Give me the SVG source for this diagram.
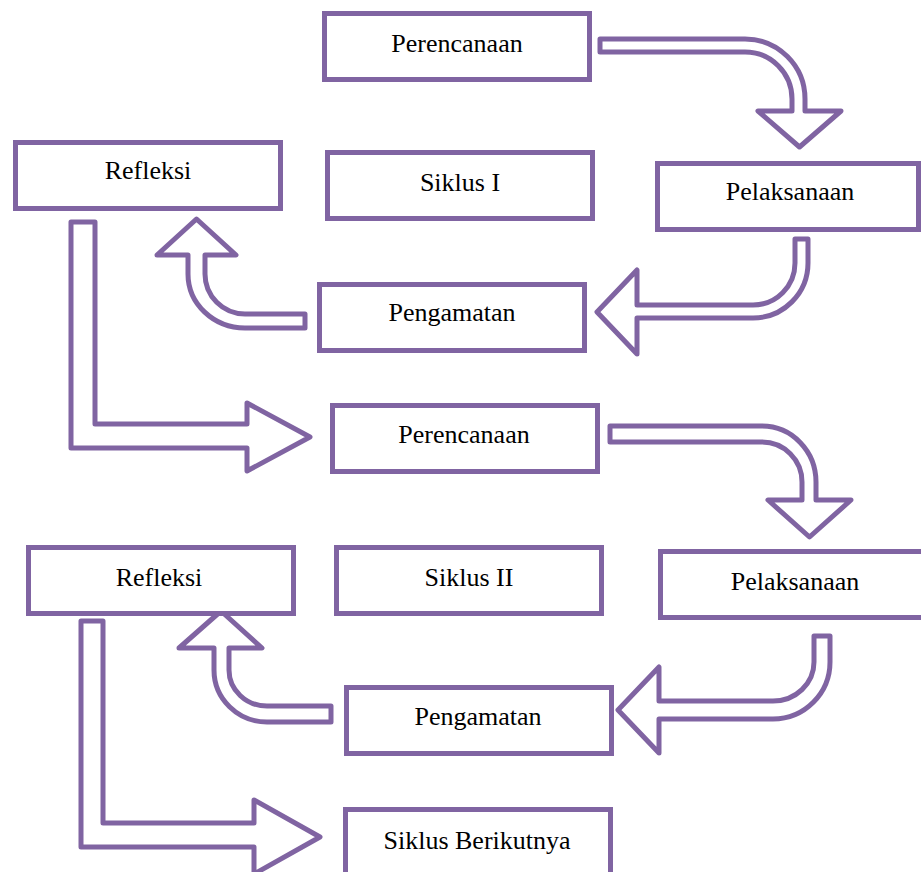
<svg xmlns="http://www.w3.org/2000/svg" width="921" height="872" viewBox="0 0 921 872">
<style>
.box{fill:#fff;stroke:#8064A2;stroke-width:5}
.arr{fill:#fff;stroke:#8064A2;stroke-width:5;stroke-linejoin:round}
text{font-family:"Liberation Serif","Times New Roman",serif;font-size:26px;fill:#000;text-anchor:middle}
</style>
<rect width="921" height="872" fill="#fff"/>
<g id="connectors">
<path class="arr" d="M600,39 H745 A60,60 0 0 1 805,99 V111 H841 L799.5,147 L758,111 H792 V99 A47,47 0 0 0 745,52 H600 Z"/>
<path class="arr" d="M795,239 H808 V263 A55,55 0 0 1 753,318 H637 V354 L597,312 L637,270 V305 H753 A42,42 0 0 0 795,263 Z"/>
<path class="arr" d="M305,314 V328 H245 A57,54 0 0 1 188,274 V255 H157 L196.5,219 L236,255 H205 V274 A40,40 0 0 0 245,314 Z"/>
<path class="arr" d="M71,222 H95 V424 H247 V403 L310,437 L247,471 V448 H71 Z"/>
<path class="arr" d="M610,426 H762 A54,56 0 0 1 816,482 V500 H851 L809.5,537 L768,500 H802 V482 A40,40 0 0 0 762,442 H610 Z"/>
<path class="arr" d="M814,636 H830 V662 A57,57 0 0 1 773,719 H659 V753 L618,710 L659,667 V701 H773 A41,39 0 0 0 814,662 Z"/>
<path class="arr" d="M331,706 V722 H267 A53,52 0 0 1 214,670 V648 H179 L221,611 L262,648 H229 V670 A38,36 0 0 0 267,706 Z"/>
<path class="arr" d="M81,621 H103 V823 H254 V800 L320,837 L254,874 V847 H81 Z"/>
</g>
<g id="perencanaan1"><rect class="box" x="324.5" y="13.5" width="265" height="66"/><text x="457" y="52">Perencanaan</text></g>
<g id="refleksi1"><rect class="box" x="15.5" y="142.5" width="265" height="66"/><text x="148" y="179">Refleksi</text></g>
<g id="siklus1"><rect class="box" x="327.5" y="152.5" width="265" height="66"/><text x="460" y="191">Siklus I</text></g>
<g id="pelaksanaan1"><rect class="box" x="657.5" y="163.5" width="261" height="66"/><text x="790" y="200">Pelaksanaan</text></g>
<g id="pengamatan1"><rect class="box" x="319.5" y="284.5" width="265" height="66"/><text x="452" y="321">Pengamatan</text></g>
<g id="perencanaan2"><rect class="box" x="332.5" y="405.5" width="265" height="66"/><text x="464" y="443">Perencanaan</text></g>
<g id="refleksi2"><rect class="box" x="28.5" y="547.5" width="265" height="66"/><text x="159" y="586">Refleksi</text></g>
<g id="siklus2"><rect class="box" x="336.5" y="547.5" width="265" height="66"/><text x="469" y="586">Siklus II</text></g>
<g id="pelaksanaan2"><rect class="box" x="660.5" y="551.5" width="265" height="66"/><text x="795" y="590">Pelaksanaan</text></g>
<g id="pengamatan2"><rect class="box" x="346.5" y="687.5" width="265" height="66"/><text x="478" y="725">Pengamatan</text></g>
<g id="siklusBerikutnya"><rect class="box" x="345.5" y="809.5" width="265" height="66"/><text x="477" y="849">Siklus Berikutnya</text></g>
</svg>
